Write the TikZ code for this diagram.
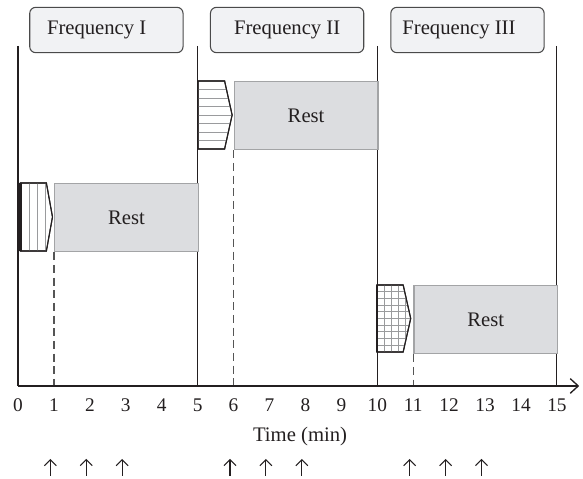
\documentclass[tikz,border=0pt]{standalone}
\usepackage{fontspec}
\setmainfont{Liberation Serif}
\usetikzlibrary{arrows.meta}
\definecolor{ink}{HTML}{231F20}
\definecolor{restfill}{HTML}{DCDDE0}
\definecolor{restline}{HTML}{A3A4A6}
\definecolor{freqfill}{HTML}{F1F2F4}
\definecolor{freqline}{HTML}{4A4A4A}
\definecolor{hatchc}{HTML}{9A9B9D}
\definecolor{dashc}{HTML}{555555}
\begin{document}
\begin{tikzpicture}[x=26.95pt, y=-0.75pt,
  freqbox/.style={draw=freqline, fill=freqfill, rounded corners=4.5pt, minimum width=115pt,
    minimum height=34pt, inner sep=0pt, line width=0.8pt, font=\fontsize{15.5}{18}\selectfont, text=ink},
  restbox/.style={draw=restline, fill=restfill, line width=1pt, minimum width=107.8pt,
    minimum height=51pt, inner sep=0pt, anchor=north west, font=\fontsize{15.5}{18}\selectfont, text=ink},
  divline/.style={draw=ink, line width=0.8pt},
  axisline/.style={draw=ink, line width=1pt, -{Straight Barb[length=6pt,width=11pt]}},
  dashline/.style={draw=dashc, line width=1pt, dash pattern=on 6pt off 3.5pt},
  pent/.style={draw=ink, line width=0.8pt, fill=white},
  hatchline/.style={draw=hatchc, line width=0.6pt},
  ticklab/.style={font=\fontsize{14.5}{17}\selectfont, text=ink, inner sep=0pt},
  axlab/.style={font=\fontsize{15.5}{18}\selectfont, text=ink, inner sep=0pt},
  uparrow/.style={draw=ink, line width=0.8pt, -{Straight Barb[length=4.5pt,width=9pt]}}
]
\useasboundingbox (-0.501,0) rectangle (15.725,479);

% frequency divider lines
\foreach \t in {0,5,10,15} {
  \coordinate (top\t) at (\t,46);
  \coordinate (bot\t) at (\t,386);
  \draw[divline] (top\t) -- (bot\t);
}

% frequency headers
\node[freqbox] (f1) at (2.46,30) {\hspace*{-7.3pt}Frequency I\hspace*{7.3pt}};
\node[freqbox] (f2) at (7.49,30) {Frequency II};
\node[freqbox] (f3) at (12.51,30) {\hspace*{-6.4pt}Frequency III\hspace*{6.4pt}};

% rest boxes
\node[restbox] (r1) at (1,183) {Rest};
\node[restbox] (r2) at (6,81) {Rest};
\node[restbox] (r3) at (11,285) {Rest};

% pentagon 1 (vertical hatch)
\path[pent] (0.07,183) -- (0.79,183) -- (0.96,217) -- (0.79,251) -- (0.07,251) -- cycle;
\begin{scope}
  \clip (0.07,183) -- (0.79,183) -- (0.96,217) -- (0.79,251) -- (0.07,251) -- cycle;
  \foreach \x in {0.31,0.54,0.77} \draw[hatchline] (\x,180) -- (\x,255);
\end{scope}
\draw[pent, fill=none] (0.07,183) -- (0.79,183) -- (0.96,217) -- (0.79,251) -- (0.07,251) -- cycle;
\draw[draw=ink, line width=1.8pt] (0.07,183) -- (0.07,251);

% pentagon 2 (horizontal hatch)
\path[pent] (5.01,81) -- (5.75,81) -- (5.96,115) -- (5.75,149) -- (5.01,149) -- cycle;
\begin{scope}
  \clip (5.01,81) -- (5.75,81) -- (5.96,115) -- (5.75,149) -- (5.01,149) -- cycle;
  \foreach \k in {1,...,7} \draw[hatchline] (4.9,81+8.5*\k) -- (6.1,81+8.5*\k);
\end{scope}
\draw[pent, fill=none] (5.01,81) -- (5.75,81) -- (5.96,115) -- (5.75,149) -- (5.01,149) -- cycle;

% pentagon 3 (grid hatch)
\path[pent] (9.99,285) -- (10.72,285) -- (10.93,318.5) -- (10.72,352) -- (9.99,352) -- cycle;
\begin{scope}
  \clip (9.99,285) -- (10.72,285) -- (10.93,318.5) -- (10.72,352) -- (9.99,352) -- cycle;
  \foreach \k in {1,...,9} \draw[hatchline] (9.9,285+6.7*\k) -- (11.1,285+6.7*\k);
  \foreach \x in {10.185,10.38,10.575,10.77} \draw[hatchline] (\x,280) -- (\x,356);
\end{scope}
\draw[pent, fill=none] (9.99,285) -- (10.72,285) -- (10.93,318.5) -- (10.72,352) -- (9.99,352) -- cycle;
\draw[draw=ink, line width=1.8pt] (9.99,285) -- (9.99,352);

% dashed guides
\coordinate (d1) at (1,386);
\coordinate (d2) at (6,386);
\coordinate (d3) at (11,386);
\draw[dashline] (r1.south west) -- (d1);
\draw[dashline] (r2.south west) -- (d2);
\draw[dashline] (r3.south west) -- (d3);

% time axis
\coordinate (axend) at (15.62,386);
\draw[axisline] (bot0) -- (axend);
\foreach \i in {0,...,15} \node[ticklab] (l\i) at (\i,405) {\i};
\node[axlab] (tl) at (7.85,437) {Time (min)};

% stimulus arrows
\foreach \t [count=\n] in {0.9,1.9,2.9,5.9,6.9,7.9,10.9,11.9,12.9} {
  \coordinate (as\n) at (\t,476);
  \coordinate (ae\n) at (\t,459);
  \draw[uparrow] (as\n) -- (ae\n);
}
\end{tikzpicture}
\end{document}
